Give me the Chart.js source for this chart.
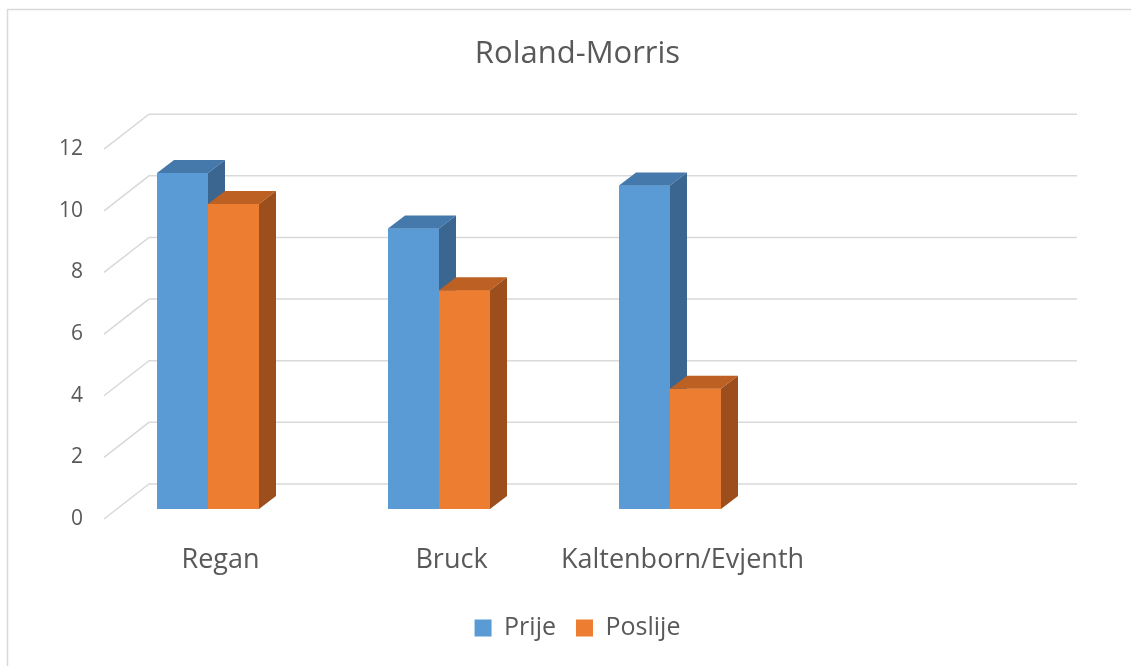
<!DOCTYPE html>
<html>
<head>
<meta charset="utf-8">
<title>Roland-Morris</title>
<script src="https://cdn.jsdelivr.net/npm/chart.js@4.4.0/dist/chart.umd.min.js"></script>
<style>
  html, body { margin: 0; padding: 0; background: #fff; }
  #wrap { width: 1131px; height: 666px; }
</style>
</head>
<body>
<div id="wrap"><canvas id="rmChart" width="1131" height="666"></canvas></div>
<script>
const categories = ['Regan', 'Bruck', 'Kaltenborn/Evjenth', ''];
const prije = [10.9, 9.1, 10.5, null];
const poslije = [9.9, 7.1, 3.9, null];
const yTicks = { min: 0, max: 12, step: 2 };

const textColor = '#595959';
const fontFamily = "'Open Sans', 'Liberation Sans', sans-serif";

// 3d look: side/top faces of bars and the "floor" offsets of the grid
const barDX = 17, barDY = 13;
const frontDrop = 10, backRise = 25;
const frontShift = 11.5, backShift = 56.5, backRightExtra = 60.5;

const faceColors = [
  { top: '#4679ab', side: '#3a6690' },
  { top: '#bd6023', side: '#9c4f1c' }
];

const depthPlugin = {
  id: 'depth',
  beforeDraw(chart) {
    const c = chart.ctx;
    c.save();
    c.fillStyle = '#fff';
    c.fillRect(0, 0, chart.width, chart.height);
    c.strokeStyle = '#d9d9d9';
    c.lineWidth = 1.5;
    c.strokeRect(7.5, 9.5, chart.width + 20, chart.height + 20);
    c.restore();
  },
  beforeDatasetsDraw(chart) {
    const c = chart.ctx;
    const area = chart.chartArea;
    const y = chart.scales.y;
    c.save();
    c.strokeStyle = '#d9d9d9';
    c.lineWidth = 1.5;
    for (let v = yTicks.min; v <= yTicks.max; v += yTicks.step) {
      const py = y.getPixelForValue(v);
      c.beginPath();
      c.moveTo(area.left + frontShift, py + frontDrop);
      c.lineTo(area.left + backShift, py - backRise);
      c.lineTo(area.right + backRightExtra, py - backRise);
      c.stroke();
    }
    c.restore();
  },
  // redraw bars in dataset order so each front face covers the previous side face
  afterDatasetsDraw(chart) {
    const c = chart.ctx;
    chart.data.datasets.forEach((ds, i) => {
      const meta = chart.getDatasetMeta(i);
      const cols = faceColors[i];
      meta.data.forEach((bar, j) => {
        if (ds.data[j] == null) return;
        bar.draw(c);
        const l = bar.x - bar.width / 2;
        const r = bar.x + bar.width / 2;
        const t = bar.y, b = bar.base;
        c.save();
        c.fillStyle = cols.top;
        c.beginPath();
        c.moveTo(l, t);
        c.lineTo(l + barDX, t - barDY);
        c.lineTo(r + barDX, t - barDY);
        c.lineTo(r, t);
        c.closePath();
        c.fill();
        c.fillStyle = cols.side;
        c.beginPath();
        c.moveTo(r, t);
        c.lineTo(r + barDX, t - barDY);
        c.lineTo(r + barDX, b - barDY);
        c.lineTo(r, b);
        c.closePath();
        c.fill();
        c.restore();
      });
    });
  }
};

const ctx = document.getElementById('rmChart');
new Chart(ctx, {
  type: 'bar',
  data: {
    labels: categories,
    datasets: [{
      label: 'Prije',
      data: prije,
      backgroundColor: '#5b9bd5'
    }, {
      label: 'Poslije',
      data: poslije,
      backgroundColor: '#ed7d31'
    }]
  },
  options: {
    responsive: false,
    animation: false,
    layout: { padding: { left: 24, right: 0, top: 0, bottom: 15.5 } },
    datasets: {
      bar: { categoryPercentage: 102 / 231, barPercentage: 1 }
    },
    plugins: {
      title: {
        display: true,
        text: 'Roland-Morris',
        color: textColor,
        font: { family: fontFamily, size: 31, weight: 'normal' },
        padding: { top: 36, bottom: 66 }
      },
      legend: {
        position: 'bottom',
        labels: {
          boxWidth: 17,
          boxHeight: 17,
          padding: 20,
          color: textColor,
          font: { family: fontFamily, size: 25 }
        }
      },
      tooltip: { enabled: false }
    },
    scales: {
      x: {
        grid: { display: false, drawTicks: false },
        border: { display: false },
        ticks: {
          color: textColor,
          font: { family: fontFamily, size: 27 },
          padding: 35,
          labelOffset: 12.5,
          maxRotation: 0,
          autoSkip: false
        },
        afterFit(scale) { scale.height = 86.5; }
      },
      y: {
        min: yTicks.min,
        max: yTicks.max,
        grid: { display: false, drawTicks: false },
        border: { display: false },
        ticks: {
          stepSize: yTicks.step,
          color: textColor,
          font: { family: fontFamily, size: 21 },
          padding: 9.5,
          labelOffset: 10
        },
        afterFit(scale) { scale.width = 68.5; }
      },
      yRight: {
        position: 'right',
        display: true,
        grid: { display: false, drawTicks: false },
        border: { display: false },
        ticks: { display: false },
        afterFit(scale) { scale.width = 114.5; }
      }
    }
  },
  plugins: [depthPlugin]
});
</script>
</body>
</html>
